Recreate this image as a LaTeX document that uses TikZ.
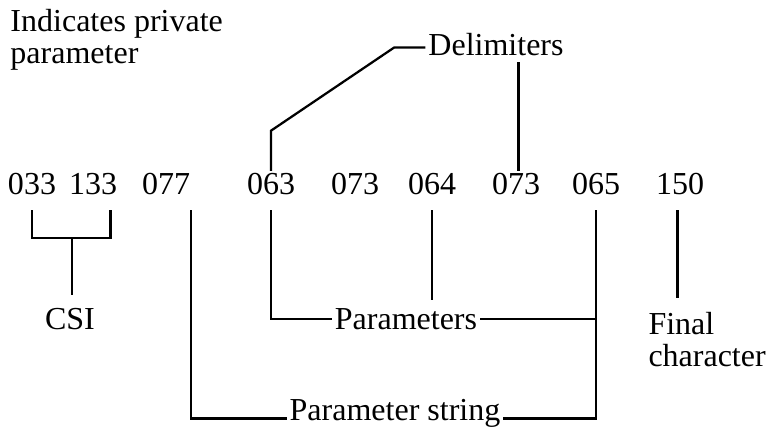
\documentclass[tikz,border=0pt]{standalone}
\usepackage{fontspec}
\setmainfont{Liberation Serif}
\usepackage{tikz}
\usetikzlibrary{positioning,calc}
\tikzset{
    num/.style={inner sep=0pt, font=\fontsize{12.8}{10.4}\selectfont},
    lbl/.style={inner sep=1.5pt, font=\fontsize{12.8}{10.4}\selectfont},
    link/.style={line width=0.9pt, line cap=rect}
}

\begin{document}
\begin{tikzpicture}[x=0.4pt, y=0.4pt]
\useasboundingbox (0,0) rectangle (767,430);

% The byte sequence
\node[num] (n1) at (32,246) {033};
\node[num] (n2) at (93,246) {133};
\node[num] (n3) at (166,246) {077};
\node[num] (n4) at (271,246) {063};
\node[num] (n5) at (355,246) {073};
\node[num] (n6) at (432,246) {064};
\node[num] (n7) at (516,246) {073};
\node[num] (n8) at (596,246) {065};
\node[num] (n9) at (680,246) {150};

% Labels
\node[lbl, anchor=north west, align=left, inner sep=0pt] (priv) at (10,421) {Indicates private\\[2.5pt]parameter};
\node[lbl] (delim) at (496,385) {Delimiters};
\node[lbl] (csi) at (70,111) {CSI};
\node[lbl] (params) at (406,111) {Parameters};
\node[lbl, anchor=base] (pstr) at (395,9) {Parameter string};
\node[lbl, anchor=north west, align=left, inner sep=0pt] (final) at (648,118) {Final\\[2.5pt]character};

% CSI bracket
\coordinate (csibar) at (72,192);
\draw[link] ([yshift=-6.5pt]n1.south) |- (csibar) -| ([xshift=7pt,yshift=-6.5pt]n2.south);
\draw[link] (csibar) -- ([yshift=4pt]csi.north -| csibar);

% Delimiters
\draw[link] ([yshift=1.2pt]n4.north) -- ++(0,39) -- ([xshift=-12pt,yshift=-1pt]delim.west) -- ([yshift=-1pt]delim.west);
\draw[link] ([xshift=1pt,yshift=1.2pt]n7.north) -- ([xshift=1pt,yshift=-1pt]delim.south -| n7.north);

% Parameters
\draw[link] ([yshift=-6.5pt]n4.south) |- (params.west);
\draw[link] ([yshift=-6.5pt]n6.south) -- ([yshift=2pt]params.north -| n6.south);
\draw[link] (params.east) -- (params.east -| n8.south);

% Parameter string
\draw[link] ([xshift=10pt,yshift=-6.5pt]n3.south) |- ([yshift=1pt]pstr.base west);
\draw[link] ([yshift=-6.5pt]n8.south) |- ([yshift=1pt]pstr.base east);

% Final character
\draw[link] ([xshift=-1pt,yshift=-6.5pt]n9.south) -- ([xshift=-1pt,yshift=6pt]n9.south |- final.north);

\end{tikzpicture}
\end{document}
